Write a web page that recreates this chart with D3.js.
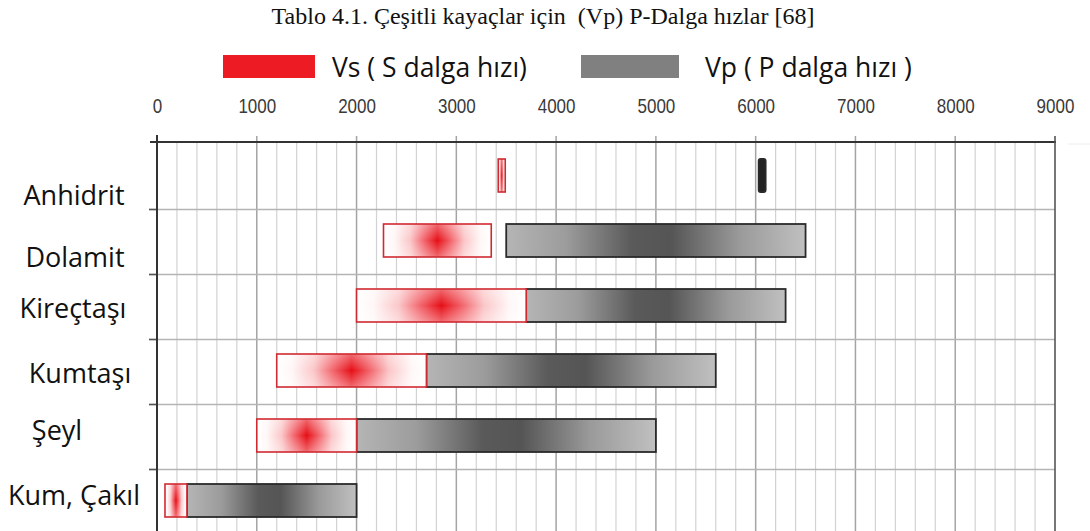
<!DOCTYPE html>
<html>
<head>
<meta charset="utf-8">
<script src="https://cdn.jsdelivr.net/npm/d3@7"></script>
<style>
  html, body { margin: 0; padding: 0; background: #fff; }
  svg { display: block; }
</style>
</head>
<body>
<div id="chart"></div>
<script>
// Rock types and their seismic velocity ranges (m/s)
const categories = ["Anhidrit", "Dolamit", "Kireçtaşı", "Kumtaşı", "Şeyl", "Kum, Çakıl"];
const vsMin = [3420, 2270, 2000, 1200, 1000, 80];
const vsMax = [3490, 3350, 3700, 2700, 2000, 300];
const vpMin = [6030, 3500, 3700, 2700, 2000, 300];
const vpMax = [6100, 6500, 6300, 5600, 5000, 2000];
const tickValues = [0, 1000, 2000, 3000, 4000, 5000, 6000, 7000, 8000, 9000];
const titleText = "Tablo 4.1. Çeşitli kayaçlar için  (Vp) P-Dalga hızlar [68]";
const legendLabels = ["Vs ( S dalga hızı)", "Vp ( P dalga hızı )"];

// hand-placed row label offsets (dx from column centre, baseline below row centre)
const labelDx = [-1, 0, -2, 5, -18, -1];
const labelDy = [29.5, 26, 12.5, 12.5, 4.5, 4.5];

const W = 1090, H = 531;
const svg = d3.select("#chart").append("svg").attr("width", W).attr("height", H);
const defs = svg.append("defs");

// red gradient for S-wave bars: white ends, saturated core
const gRed = defs.append("linearGradient").attr("id", "gRed").attr("x1", 0).attr("x2", 1).attr("y1", 0).attr("y2", 0);
[[0, "#ffffff"], [0.1, "#fff7f7"], [0.25, "#fbc6c8"], [0.38, "#f2636a"], [0.5, "#e60e16"],
 [0.62, "#f2636a"], [0.75, "#fbc6c8"], [0.9, "#fff7f7"], [1, "#ffffff"]]
  .forEach(([o, c]) => gRed.append("stop").attr("offset", o).attr("stop-color", c));
// vertical haze that lightens the top and bottom of the red bars
const gHaze = defs.append("linearGradient").attr("id", "gHaze").attr("x1", 0).attr("x2", 0).attr("y1", 0).attr("y2", 1);
[[0, 0.38], [0.5, 0], [1, 0.38]]
  .forEach(([o, a]) => gHaze.append("stop").attr("offset", o).attr("stop-color", "#fff").attr("stop-opacity", a));
// grey gradient for P-wave bars
const gGrey = defs.append("linearGradient").attr("id", "gGrey").attr("x1", 0).attr("x2", 1).attr("y1", 0).attr("y2", 0);
[[0, "#b5b5b5"], [0.2, "#9c9c9c"], [0.42, "#5a5a5a"], [0.55, "#555555"], [0.78, "#9a9a9a"], [1, "#c0c0c0"]]
  .forEach(([o, c]) => gGrey.append("stop").attr("offset", o).attr("stop-color", c));

const x = d3.scaleLinear().domain([0, 9000]).range([157, 1055]);
const y = d3.scaleBand().domain(categories).range([143, 533]);
const barH = 33;

// title
svg.append("text")
  .attr("x", 543).attr("y", 24)
  .attr("text-anchor", "middle")
  .style("white-space", "pre")
  .attr("font-family", "'Liberation Serif', 'Times New Roman', serif")
  .attr("font-size", 24)
  .attr("fill", "#111")
  .text(titleText);

// legend
const legend = svg.append("g");
legend.append("rect").attr("x", 223).attr("y", 55).attr("width", 92).attr("height", 23).attr("fill", "#ed1c24");
legend.append("text").attr("x", 332).attr("y", 77)
  .attr("font-family", "'Open Sans', sans-serif").attr("font-size", 26.5).attr("fill", "#111")
  .text(legendLabels[0]);
legend.append("rect").attr("x", 581).attr("y", 55).attr("width", 98).attr("height", 23).attr("fill", "#808080");
legend.append("text").attr("x", 705).attr("y", 77)
  .attr("font-family", "'Open Sans', sans-serif").attr("font-size", 26.5).attr("fill", "#111")
  .text(legendLabels[1]);

// x tick labels along the top (slightly condensed)
const axisG = svg.append("g").attr("transform", "translate(0,113)")
  .call(d3.axisTop(x).tickValues(tickValues).tickSize(0).tickPadding(0).tickFormat(d3.format("d")));
axisG.select(".domain").remove();
axisG.selectAll("text")
  .attr("font-family", "'Liberation Sans', Arial, sans-serif")
  .attr("font-size", 20).attr("fill", "#3a3a3a").attr("dy", 0)
  .attr("transform", "scale(0.85,1)");

// grid
const grid = svg.append("g");
const minor = d3.range(0, 9001, 200).filter(v => v % 1000 !== 0);
grid.selectAll(".minor").data(minor).join("line")
  .attr("x1", d => x(d)).attr("x2", d => x(d)).attr("y1", 142).attr("y2", H)
  .attr("stroke", "#d2d2d2").attr("stroke-width", 1.2);
grid.selectAll(".major").data(tickValues.slice(1, -1)).join("line")
  .attr("x1", d => x(d)).attr("x2", d => x(d)).attr("y1", 136).attr("y2", H)
  .attr("stroke", "#a4a4a4").attr("stroke-width", 1.5);
const rowEdges = categories.slice(1).map(c => y(c) + 1.5);
grid.selectAll(".row").data(rowEdges).join("line")
  .attr("x1", 149).attr("x2", 1055).attr("y1", d => d).attr("y2", d => d)
  .attr("stroke", "#b4b4b4").attr("stroke-width", 1.5);
grid.selectAll(".ltick").data(rowEdges).join("line")
  .attr("x1", 149).attr("x2", 157).attr("y1", d => d).attr("y2", d => d)
  .attr("stroke", "#555").attr("stroke-width", 1.5);

// frame
svg.append("line").attr("x1", 150).attr("x2", 1056).attr("y1", 142).attr("y2", 142).attr("stroke", "#333").attr("stroke-width", 2);
svg.append("line").attr("x1", 157).attr("x2", 157).attr("y1", 135).attr("y2", H).attr("stroke", "#333").attr("stroke-width", 2);
svg.append("line").attr("x1", 1055).attr("x2", 1055).attr("y1", 136).attr("y2", H).attr("stroke", "#555").attr("stroke-width", 1.6);
svg.append("line").attr("x1", 1068).attr("x2", W).attr("y1", 144).attr("y2", 144).attr("stroke", "#ececec").attr("stroke-width", 1);

// bars
const rows = categories.map((c, i) => ({ c, i, vs0: vsMin[i], vs1: vsMax[i], vp0: vpMin[i], vp1: vpMax[i] }));
const bars = svg.append("g");
const cy = d => y(d.c) + y.bandwidth() / 2;

// P-wave bars
bars.selectAll(".vp").data(rows).join("rect")
  .attr("x", d => x(d.vp0)).attr("width", d => x(d.vp1) - x(d.vp0))
  .attr("y", d => cy(d) - barH / 2).attr("height", barH)
  .attr("rx", d => (x(d.vp1) - x(d.vp0)) < 12 ? 2 : 0)
  .attr("fill", d => (x(d.vp1) - x(d.vp0)) < 12 ? "#222" : "url(#gGrey)")
  .attr("stroke", "#2a2a2a").attr("stroke-width", 1.8);

// S-wave bars
const vsG = bars.selectAll(".vs").data(rows).join("g");
vsG.append("rect")
  .attr("x", d => x(d.vs0)).attr("width", d => x(d.vs1) - x(d.vs0))
  .attr("y", d => cy(d) - barH / 2).attr("height", barH)
  .attr("fill", "url(#gRed)");
vsG.append("rect")
  .attr("x", d => x(d.vs0)).attr("width", d => x(d.vs1) - x(d.vs0))
  .attr("y", d => cy(d) - barH / 2).attr("height", barH)
  .attr("fill", "url(#gHaze)")
  .attr("stroke", "#d02a31").attr("stroke-width", 1.6);

// row labels
svg.append("g").selectAll("text").data(rows).join("text")
  .attr("x", d => 75 + labelDx[d.i])
  .attr("y", d => cy(d) + labelDy[d.i])
  .attr("text-anchor", "middle")
  .attr("font-family", "'Open Sans', sans-serif")
  .attr("font-size", 27)
  .attr("fill", "#111")
  .text(d => d.c);
</script>
</body>
</html>
